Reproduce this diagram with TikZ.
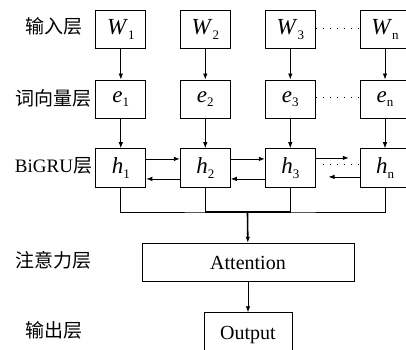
\documentclass[tikz,border=0pt]{standalone}
\usepackage{fontspec}
\setmainfont{Liberation Serif}
\newfontfamily\cjk{Noto Sans CJK SC}
\usepackage{tikz}
\usetikzlibrary{arrows.meta,positioning,calc}

\newcommand\tok[2]{{\fontsize{23}{24}\selectfont\textit{#1}}\raisebox{-.5ex}{\fontsize{13}{13}\selectfont #2}}

\begin{document}
\begin{tikzpicture}[x=1pt,y=-1pt,arrow/.style = {line width=0.8pt,-{Latex[length=6pt,width=4.5pt]}}]
	\tikzset{cellbox/.style={draw,line width=0.9pt,rectangle,inner sep=0pt,minimum width=50pt,minimum height=38.5pt,align=center,font=\fontsize{20}{22}\selectfont}}
	\tikzset{layer/.style={font=\fontsize{19}{21}\selectfont,inner sep=0pt}}
	\tikzset{dotline/.style={line width=1pt,dash pattern=on 1.5pt off 5.5pt}}
	\useasboundingbox (0,0) rectangle (406,349);

	% layer labels
	\node[layer] (lin) at (54,26.7) {\cjk 输入层};
	\node[layer] (lemb) at (53.3,98.5) {\cjk 词向量层};
	\node[layer] (lgru) at (53.5,165.5) {BiGRU{\cjk 层}};
	\node[layer] (latt) at (53.5,260.5) {\cjk 注意力层};
	\node[layer] (lout) at (54,330) {\cjk 输出层};

	% input, embedding and BiGRU rows
	\foreach \i/\x in {1/120.8,2/205.3,3/290.3,n/385}{
		\node[cellbox] (w\i) at (\x,29.3) {\tok{W}{\i}};
		\node[cellbox] (e\i) at (\x,99.2) {\tok{e}{\i}};
		\node[cellbox] (h\i) at (\x,167.9) {\tok{h}{\i}};
		\draw[arrow] (w\i) -- (e\i);
		\draw[arrow] (e\i) -- (h\i);
	}

	\draw[dotline] ([yshift=1.3pt]w3.east) -- ([yshift=1.3pt]wn.west);
	\draw[dotline] ([yshift=1.5pt]e3.east) -- ([yshift=1.5pt]en.west);

	% recurrent links
	\foreach \a/\b in {1/2,2/3}{
		\draw[arrow] ([yshift=9pt]h\a.east) -- ([yshift=9pt]h\b.west);
		\draw[arrow] ([yshift=-11pt]h\b.west) -- ([yshift=-11pt]h\a.east);
	}
	\draw[arrow] ([yshift=10pt]h3.east) -- ++(33,0);
	\draw[dotline] ([xshift=7pt,yshift=3pt]h3.east) -- ([yshift=3pt]hn.west);
	\draw[arrow] ([yshift=-9pt]hn.west) -- ++(-31,0);

	% attention and output
	\node[cellbox,minimum width=212pt] (att) at (248,262.5) {Attention};
	\node[cellbox,minimum width=88pt,minimum height=40pt,text depth=0pt] (out) at (248,332.7) {Output};

	\coordinate (bus) at (247.5,212);
	\draw[line width=0.9pt] (h1.south) |- (bus) -| (hn.south);
	\draw[line width=0.9pt] (h2.south) |- (bus) -| (h3.south);
	\draw[line width=1.6pt] (h2.south |- bus) -- (h3.south |- bus);
	\draw[arrow,line width=1.6pt] (bus) -- (att);
	\draw[arrow] (att) -- (out);
\end{tikzpicture}
\end{document}
